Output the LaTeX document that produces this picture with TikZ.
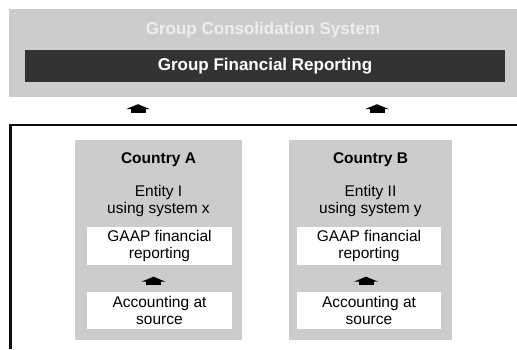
\documentclass[tikz,border=0pt]{standalone}
\usepackage{fontspec}
\setmainfont{Liberation Sans}
\usetikzlibrary{positioning,arrows.meta}

\definecolor{panelgray}{HTML}{CCCCCC}
\definecolor{bardark}{HTML}{333333}
\definecolor{titlegray}{HTML}{EEEEEE}

\begin{document}
\begin{tikzpicture}[x=1pt,y=-1pt,
    % shared looks
    panel/.style={fill=panelgray, inner sep=0pt},
    titletext/.style={font=\fontsize{17}{20}\selectfont\bfseries, inner sep=0pt},
    countrytext/.style={font=\fontsize{15.5}{18}\selectfont\bfseries, inner sep=0pt},
    bodytext/.style={font=\fontsize{15.5}{17}\selectfont, align=center, inner sep=0pt},
    whitebox/.style={bodytext, fill=white, minimum width=145pt, minimum height=38pt},
    uparrow/.style={line width=15pt, -{Triangle[width=24pt,length=5pt]}},
    frameline/.style={line width=2.8pt, draw=black!95}
    ]
    \useasboundingbox (0,0) rectangle (517,349);

    % group level
    \node[panel, minimum width=508pt, minimum height=88pt] (group) at (263,53) {};
    \node[titletext, text=titlegray] (grouptitle) at (263,30) {Group Consolidation System};
    \node[panel, fill=bardark, text=white, titletext, minimum width=480pt, minimum height=32pt] (reporting) at (265,66) {Group Financial Reporting};

    % country level frame
    \draw[frameline] (10.5,349) |- (517,125);

    % country A
    \node[panel, minimum width=167pt, minimum height=200pt] (countryA) at (158.5,240) {};
    \node[countrytext] (nameA) at (158.5,160) {Country A};
    \node[bodytext] (entityA) at (158.5,201) {Entity I\\using system x};
    \node[whitebox] (gaapA) at (159.5,246) {GAAP financial\\reporting};
    \node[whitebox, minimum height=37pt] (acctA) at (159.5,310.5) {Accounting at\\source};

    % country B
    \node[panel, minimum width=163pt, minimum height=200pt] (countryB) at (370.5,240) {};
    \node[countrytext] (nameB) at (370.5,160) {Country B};
    \node[bodytext] (entityB) at (370.5,201) {Entity II\\using system y};
    \node[whitebox, minimum width=144pt] (gaapB) at (369,246) {GAAP financial\\reporting};
    \node[whitebox, minimum width=144pt, minimum height=37pt] (acctB) at (369,310.5) {Accounting at\\source};

    % arrows
    \coordinate (upA) at (138,125);
    \coordinate (upB) at (377,125);
    \draw[uparrow, shorten <=12pt, shorten >=7pt] (upA) -- (upA |- group.south);
    \draw[uparrow, shorten <=12pt, shorten >=7pt] (upB) -- (upB |- group.south);
    \draw[uparrow, shorten <=7pt, shorten >=11.5pt] ([xshift=-6pt]acctA.north) -- ([xshift=-6pt]gaapA.south);
    \draw[uparrow, shorten <=7pt, shorten >=11.5pt] ([xshift=-3pt]acctB.north) -- ([xshift=-3pt]gaapB.south);
\end{tikzpicture}
\end{document}
